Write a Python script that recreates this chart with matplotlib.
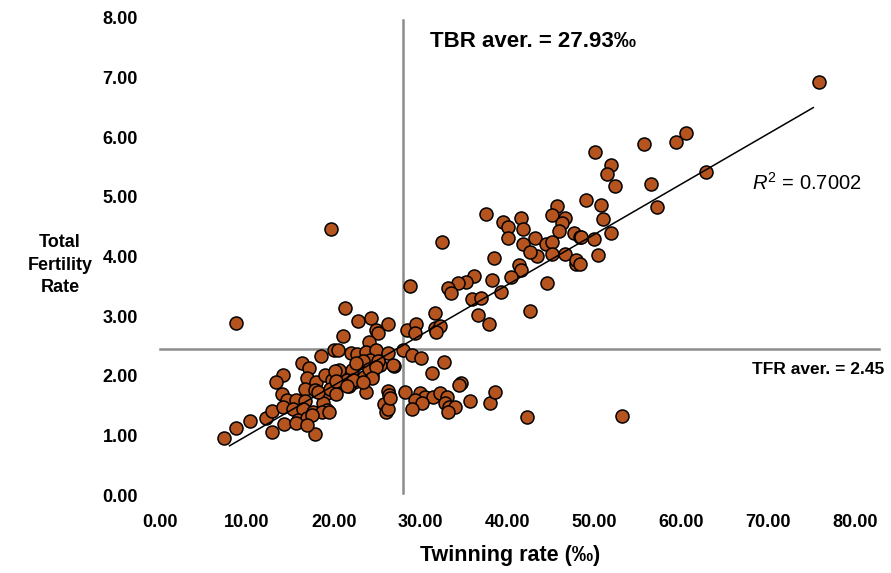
"""
Twinning rate vs total fertility rate scatter
"""
import matplotlib

matplotlib.use("Agg")
import matplotlib.pyplot as plt
import numpy as np

plt.rcParams["font.family"] = ["Liberation Sans", "DejaVu Sans"]
plt.rcParams["mathtext.fontset"] = "custom"
plt.rcParams["mathtext.rm"] = "Liberation Sans"
plt.rcParams["mathtext.it"] = "Liberation Sans:italic"

# 双胎率 (‰) 与总和生育率
twin_rate = [
    8.8, 7.4, 8.7, 10.3, 12.9, 12.2, 14.3, 16.3, 14.1, 13.3, 14.0, 12.9,
    17.1, 20.0, 16.9, 18.0, 19.0, 16.7, 17.8, 19.2, 20.1, 14.6, 15.7, 16.7,
    18.8, 14.2, 15.3, 16.5, 17.6, 19.2, 15.9, 16.9, 15.6, 17.8, 18.6, 17.5,
    21.3, 22.8, 24.3, 26.3, 24.9, 25.1, 28.4, 29.5, 29.3, 31.7, 31.6, 32.2,
    31.8, 36.6, 37.9, 21.1, 24.0, 18.5, 20.5, 22.0, 22.7, 23.7, 24.9, 26.2,
    28.0, 29.0, 30.0, 32.7, 31.3, 26.9, 25.3, 20.3, 20.6, 22.1, 23.5, 24.4,
    19.8, 21.5, 22.3, 18.2, 19.6, 20.3, 21.7, 23.7, 26.3, 26.4, 28.2, 29.9,
    30.5, 31.4, 32.2, 33.0, 34.6, 34.4, 35.7, 38.0, 38.6, 29.3, 30.1, 29.0,
    32.8, 33.3, 33.9, 33.2, 25.8, 26.0, 26.2, 19.4, 16.9,
    24.2, 25.1, 23.4, 22.6, 26.8, 20.1, 24.1, 24.9, 20.3, 22.2, 24.4, 23.4,
    21.5, 26.5,
    19.7, 32.5, 28.8, 36.1, 35.2, 34.3, 33.2, 33.5, 35.9,
    38.5, 43.4, 47.9, 41.3, 41.6, 40.4, 38.2, 44.6, 37.0, 39.2, 42.6, 42.3,
    53.2,
    37.5, 45.7, 45.1, 46.6, 46.3, 45.9, 47.7, 48.3, 39.5, 40.0, 41.6, 41.8,
    40.0, 43.2, 41.8, 44.4, 45.1, 42.6, 45.1, 46.6, 47.9,
    50.1, 51.9, 51.5, 52.4, 55.7, 59.4, 60.6, 56.5, 57.2, 62.8, 49.0, 50.8,
    51.0, 51.9, 49.9, 48.5, 50.4, 48.3, 75.8,
]
fertility = [
    2.88, 0.95, 1.12, 1.24, 1.05, 1.29, 1.19, 2.21, 2.02, 1.90, 1.69, 1.41,
    2.13, 2.43, 1.96, 1.90, 2.02, 1.78, 1.76, 1.71, 1.73, 1.59, 1.59, 1.57,
    1.54, 1.48, 1.45, 1.45, 1.40, 1.43, 1.26, 1.29, 1.21, 1.02, 1.40, 1.34,
    3.13, 2.92, 2.97, 2.86, 2.77, 2.71, 2.76, 2.86, 2.71, 3.05, 2.80, 2.84,
    2.74, 3.02, 2.87, 2.66, 2.57, 2.33, 2.44, 2.39, 2.37, 2.40, 2.43, 2.39,
    2.43, 2.35, 2.29, 2.23, 2.05, 2.16, 2.18, 2.03, 2.09, 2.10, 1.98, 2.01,
    1.93, 1.93, 1.89, 1.73, 1.77, 1.69, 1.82, 1.73, 1.74, 1.68, 1.72, 1.71,
    1.65, 1.65, 1.71, 1.65, 1.88, 1.84, 1.58, 1.54, 1.73, 1.59, 1.54, 1.45,
    1.54, 1.48, 1.48, 1.40, 1.52, 1.40, 1.45, 1.40, 1.17,
    2.27, 2.24, 2.24, 2.21, 2.18, 2.08, 2.11, 2.15, 1.91, 1.93, 1.96, 1.90,
    1.83, 1.62,
    4.46, 4.25, 3.50, 3.67, 3.57, 3.55, 3.48, 3.38, 3.29,
    3.97, 4.01, 3.87, 3.86, 3.78, 3.66, 3.60, 3.55, 3.31, 3.40, 3.08, 1.31,
    1.33,
    4.71, 4.85, 4.70, 4.64, 4.56, 4.42, 4.40, 4.32, 4.58, 4.50, 4.64, 4.46,
    4.31, 4.31, 4.21, 4.21, 4.24, 4.07, 4.05, 4.04, 3.94,
    5.75, 5.53, 5.39, 5.18, 5.88, 5.92, 6.07, 5.22, 4.83, 5.41, 4.95, 4.86,
    4.63, 4.40, 4.29, 4.33, 4.02, 3.88, 6.92,
]
tbr_mean = 27.93
tfr_mean = 2.45
r2_text = "0.7002"
x_ticks = [0, 10, 20, 30, 40, 50, 60, 70, 80]
y_ticks = [0, 1, 2, 3, 4, 5, 6, 7, 8]

x = np.array(twin_rate)
y = np.array(fertility)

fig = plt.figure(figsize=(8.91, 5.73), dpi=100)
ax = fig.add_axes([0.1796, 0.1361, 0.78, 0.8325])

ax.scatter(x, y, s=88, color="#B5541E", edgecolor="black", linewidth=1.1, zorder=3)

# 线性趋势线
k, b = np.polyfit(x, y, 1)
xs = np.array([x.min() + 0.6, x.max() - 0.6])
ax.plot(xs, k * xs + b, color="black", lw=1.1, zorder=4)

# 平均线
ax.plot([tbr_mean, tbr_mean], [0.04, 7.97], color="#8C8C8C", lw=1.8, zorder=1, clip_on=False)
ax.plot([0, 82.8], [tfr_mean, tfr_mean], color="#8C8C8C", lw=1.8, zorder=1, clip_on=False)

ax.set_xlim(0, 80)
ax.set_ylim(0, 8)
ax.set_xticks(x_ticks)
ax.set_yticks(y_ticks)
ax.set_xticklabels([f"{v:.2f}" for v in x_ticks], fontsize=13, fontweight="bold")
ax.set_yticklabels([f"{v:.2f}" for v in y_ticks], fontsize=13, fontweight="bold")
ax.tick_params(axis="x", length=0, pad=14)
ax.tick_params(axis="y", length=0, pad=16)
for s in ax.spines.values():
    s.set_visible(False)

ax.text(31.1, 7.60, f"TBR aver. = {tbr_mean:.2f}‰", fontsize=16, fontweight="bold",
        va="center", ha="left")
ax.text(68.1, 2.10, f"TFR aver. = {tfr_mean:.2f}", fontsize=12.5, fontweight="bold",
        va="center", ha="left", clip_on=False)
ax.text(68.2, 5.23, "$\\it{R}^2$ = " + r2_text, fontsize=14.5, va="center", ha="left",
        clip_on=False)

fig.text(510 / 891, 1 - 556 / 573, "Twinning rate (‰)", fontsize=15.5, fontweight="bold",
         ha="center", va="center")
fig.text(60 / 891, 1 - 265 / 573, "Total\nFertility\nRate", fontsize=13, fontweight="bold",
         ha="center", va="center", linespacing=1.4)

fig.savefig("out.png", dpi=100)
plt.close(fig)
